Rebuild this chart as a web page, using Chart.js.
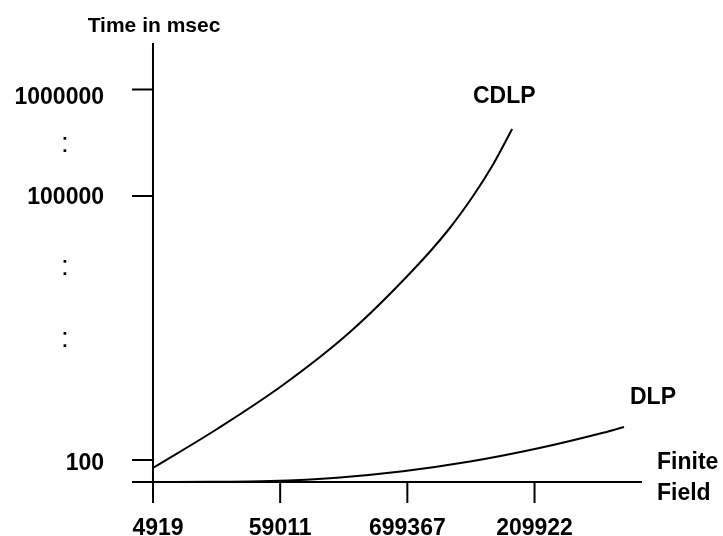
<!DOCTYPE html>
<html>
<head>
<meta charset="utf-8">
<script src="https://cdn.jsdelivr.net/npm/chart.js@4/dist/chart.umd.min.js"></script>
<style>
html,body{margin:0;padding:0;background:#fff;}
#wrap{width:723px;height:536px;}
</style>
</head>
<body>
<div id="wrap"><canvas id="c" width="723" height="536"></canvas></div>
<script>
// ---- data ----
const xTickValues = [0, 1, 2, 3];
const xTickLabels = ['4919', '59011', '699367', '209922'];
const yTickValues = [2.2, 14.2, 21.4, 28.6, 33.7, 39.25];
const yTickLabels = ['100', ':', ':', '100000', ':', '1000000'];
const cdlpX = [0, 0.504, 1.022, 1.549, 2.045, 2.312, 2.517, 2.674, 2.824];
const cdlpY = [1.4, 5.3, 9.7, 15.0, 21.2, 25.05, 28.6, 31.75, 35.3];
const dlpX = [0, 0.45, 0.92, 1.447, 1.966, 2.493, 3.020, 3.539, 3.704];
const dlpY = [0, 0.02, 0.1, 0.43, 1.07, 2.04, 3.34, 4.92, 5.5];
const seriesNames = ['CDLP', 'DLP'];
const yAxisTitle = 'Time in msec';
const xAxisTitle = ['Finite', 'Field'];

const toPts = (xs, ys) => xs.map((x, i) => ({x: x, y: ys[i]}));

const FONT = '"Liberation Sans", Arial, sans-serif';

const axesPlugin = {
  id: 'axesPlugin',
  afterDraw(chart) {
    const ctx = chart.ctx;
    const xs = chart.scales.x, ys = chart.scales.y;
    const x0 = xs.getPixelForValue(0);
    const y0 = ys.getPixelForValue(0);
    ctx.save();
    ctx.strokeStyle = '#000';
    ctx.fillStyle = '#000';
    ctx.lineWidth = 2;
    ctx.lineCap = 'butt';
    // x axis line
    ctx.beginPath();
    ctx.moveTo(xs.left, y0);
    ctx.lineTo(xs.right, y0);
    ctx.stroke();
    // y axis line
    ctx.beginPath();
    ctx.moveTo(x0, ys.top);
    ctx.lineTo(x0, y0);
    ctx.stroke();
    // x ticks + labels
    ctx.font = 'bold 23px ' + FONT;
    ctx.textAlign = 'center';
    ctx.textBaseline = 'alphabetic';
    xTickValues.forEach((v, i) => {
      const px = xs.getPixelForValue(v);
      ctx.beginPath();
      ctx.moveTo(px, y0);
      ctx.lineTo(px, y0 + 21);
      ctx.stroke();
      ctx.fillText(xTickLabels[i], px + (i === 0 ? 5 : 0), y0 + 53);
    });
    // y ticks + labels
    yTickValues.forEach((v, i) => {
      const py = ys.getPixelForValue(v);
      const lab = yTickLabels[i];
      if (lab === ':') {
        ctx.font = '28px ' + FONT;
        ctx.textAlign = 'center';
        ctx.fillText(lab, 65, py + 7);
      } else {
        ctx.beginPath();
        ctx.moveTo(x0 - 21, py);
        ctx.lineTo(x0, py);
        ctx.stroke();
        ctx.font = 'bold 23px ' + FONT;
        ctx.textAlign = 'right';
        const shift = lab === '1000000' ? 6 : (lab === '100' ? 2 : 0);
        ctx.fillText(lab, 104, py + 8 + shift);
      }
    });
    // titles and series labels
    ctx.font = 'bold 21px ' + FONT;
    ctx.textAlign = 'center';
    ctx.fillText(yAxisTitle, 154, 32);
    ctx.font = 'bold 23px ' + FONT;
    ctx.textAlign = 'left';
    ctx.fillText(seriesNames[0], 473, 103);
    ctx.fillText(seriesNames[1], 630, 404);
    ctx.fillText(xAxisTitle[0], 657, 469);
    ctx.fillText(xAxisTitle[1], 657, 500);
    ctx.restore();
  }
};

new Chart(document.getElementById('c'), {
  type: 'line',
  data: {
    datasets: [
      {label: seriesNames[0], data: toPts(cdlpX, cdlpY), borderColor: '#000', borderWidth: 2,
       pointRadius: 0, cubicInterpolationMode: 'monotone', fill: false, clip: false},
      {label: seriesNames[1], data: toPts(dlpX, dlpY), borderColor: '#000', borderWidth: 2,
       pointRadius: 0, cubicInterpolationMode: 'monotone', fill: false, clip: false}
    ]
  },
  options: {
    responsive: false,
    animation: false,
    layout: {padding: {left: 132, right: 81, top: 43, bottom: 54}},
    plugins: {legend: {display: false}, title: {display: false}, tooltip: {enabled: false}},
    scales: {
      x: {type: 'linear', min: -0.165, max: 3.845, display: false},
      y: {type: 'linear', min: 0, max: 43.9, display: false}
    }
  },
  plugins: [axesPlugin]
});
</script>
</body>
</html>
